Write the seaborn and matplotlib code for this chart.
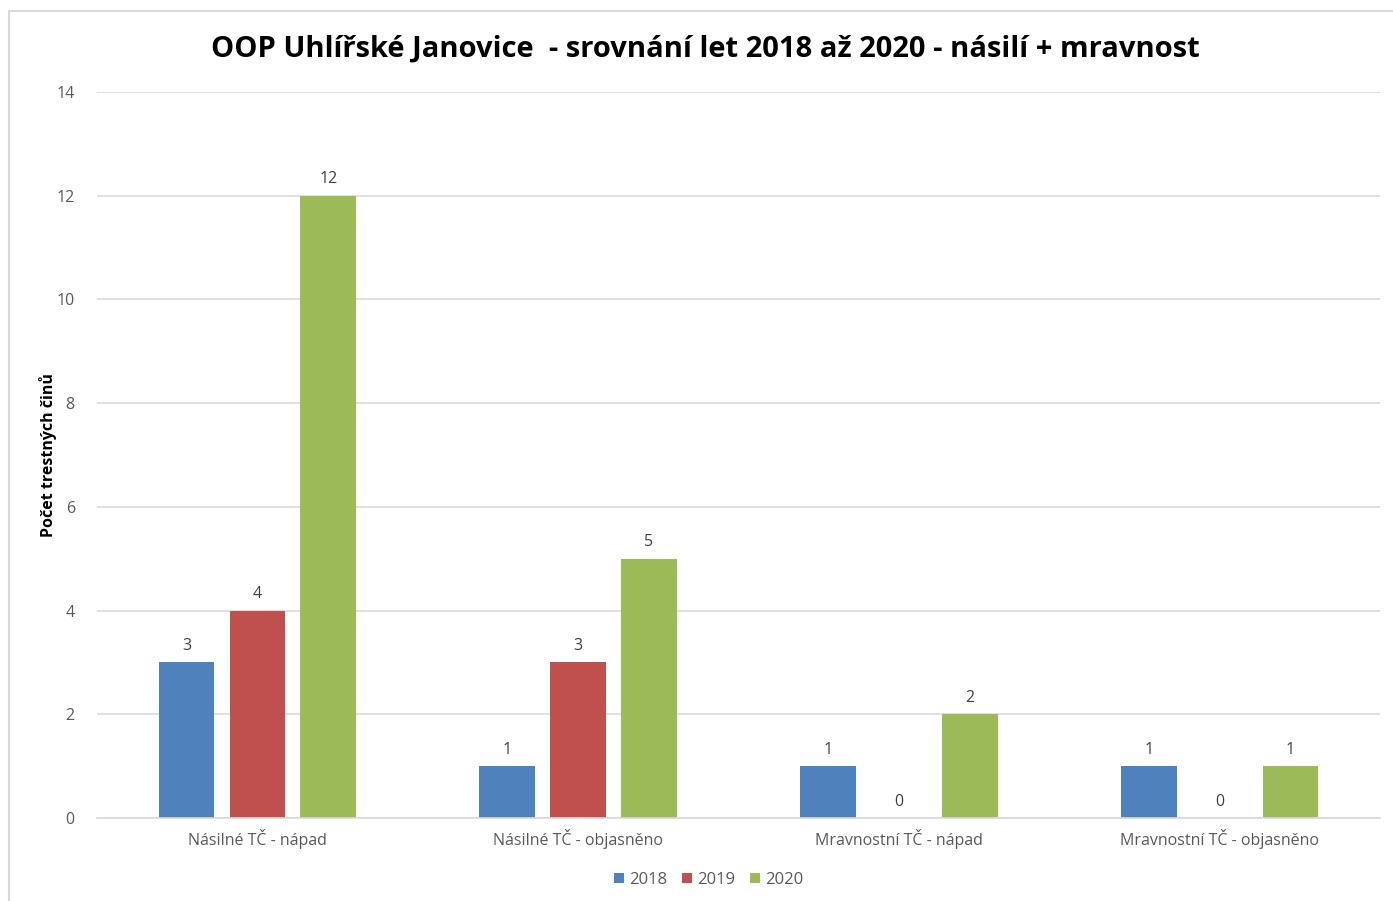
import matplotlib
matplotlib.use("Agg")
import matplotlib.pyplot as plt
import seaborn as sns
import pandas as pd
from matplotlib.patches import Rectangle

categories = ["Násilné TČ - nápad", "Násilné TČ - objasněno", "Mravnostní TČ - nápad", "Mravnostní TČ - objasněno"]
years = ["2018", "2019", "2020"]
v2018 = [3, 1, 1, 1]
v2019 = [4, 3, 0, 0]
v2020 = [12, 5, 2, 1]
colors = ["#4F81BD", "#C0504D", "#9BBB59"]

rows = []
for y, vals in zip(years, [v2018, v2019, v2020]):
    for c, v in zip(categories, vals):
        rows.append({"cat": c, "year": y, "val": v})
df = pd.DataFrame(rows)

sns.set_theme(style="white")
plt.rcParams['font.family'] = ['Open Sans', 'DejaVu Sans']

fig = plt.figure(figsize=(13.93, 9.01), dpi=100)
ax = fig.add_axes([97/1393, 1-818/901, (1380-97)/1393, (818-92)/901])

sns.barplot(data=df, x="cat", y="val", hue="year", palette=colors, ax=ax,
            width=0.663, gap=0.215, saturation=1, legend=True, linewidth=0)

ax.set_ylim(0, 14)
ax.set_yticks(range(0, 15, 2))
ax.yaxis.grid(True, color="#D9D9D9", linewidth=1.2)
ax.set_axisbelow(True)
for s in ["top", "right", "left"]:
    ax.spines[s].set_visible(False)
ax.spines["bottom"].set_color("#D9D9D9")
ax.spines["bottom"].set_linewidth(1.2)
ax.tick_params(axis="both", length=0, colors="#595959", labelsize=11.5)
ax.tick_params(axis="y", pad=16)
ax.tick_params(axis="x", pad=8)
ax.set_xlabel("")
ax.set_ylabel("Počet trestných činů", fontsize=11.5, fontweight="bold", color="black")
ax.yaxis.set_label_coords((57 - 97) / 1283, 0.5)

for cont in ax.containers:
    ax.bar_label(cont, fmt="%d", padding=6, fontsize=11.5, color="#404040")

leg = ax.legend(loc="center", bbox_to_anchor=((709 - 97) / 1283, -(880 - 818) / 726), ncol=3, frameon=False,
                fontsize=12, handlelength=0.6, handleheight=0.6, handletextpad=0.3,
                columnspacing=0.9)
for t in leg.get_texts():
    t.set_color("#595959")

fig.text(705/1393, 1-49/901, "OOP Uhlířské Janovice  - srovnání let 2018 až 2020 - násilí + mravnost",
         ha="center", va="center", fontsize=21, fontweight="bold", color="black")

fig.patches.append(Rectangle((9/1393, -0.1), 1.2, 1 - 11/901 + 0.1, transform=fig.transFigure,
                             fill=False, edgecolor="#D9D9D9", linewidth=1.5))

fig.savefig("out.png", dpi=100)
